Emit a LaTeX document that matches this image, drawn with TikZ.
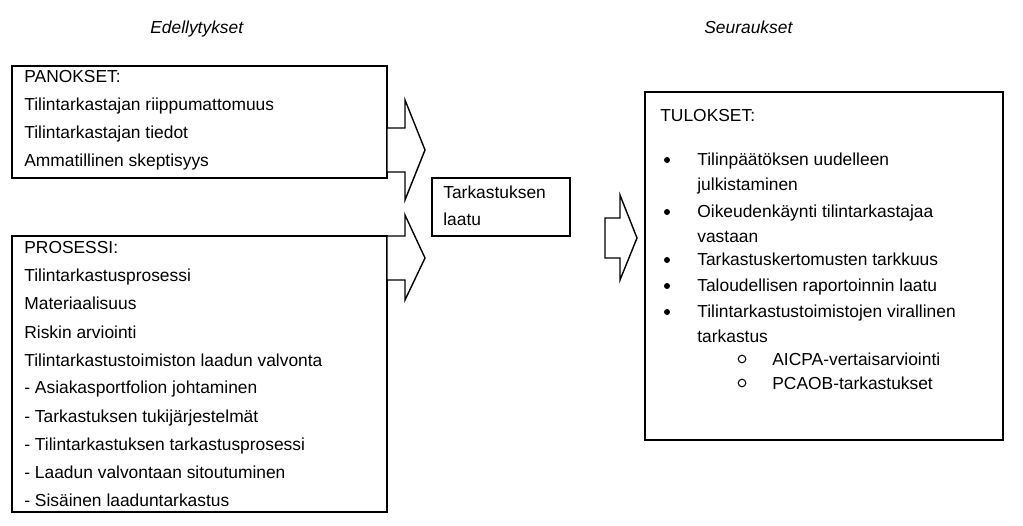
\documentclass[tikz,border=0pt]{standalone}
\usepackage{fontspec}
\setmainfont{Liberation Sans}
\usetikzlibrary{positioning}
\tikzset{box/.style={draw=black, line width=0.8pt}, txt/.style={anchor=base west, inner sep=0pt, font=\fontsize{9.9}{11}\selectfont}, fat/.style={draw=black, line width=0.8pt, fill=white}}

\begin{document}
\begin{tikzpicture}[x=0.02cm, y=-0.02cm]
    \useasboundingbox (0,0) rectangle (1023,526);

    \node (ede) [txt, font=\fontsize{9.9}{11}\selectfont\itshape] at (150,34) {Edellytykset};
    \node (seu) [txt, font=\fontsize{9.9}{11}\selectfont\itshape] at (704,34) {Seuraukset};

    % vasen puoli
    \draw [box] (12,66) rectangle (387,178);
    \draw [box] (12,236) rectangle (387,512);
    \foreach \t [count=\i from 0] in {PANOKSET:, Tilintarkastajan riippumattomuus, Tilintarkastajan tiedot, Ammatillinen skeptisyys}
        \node (pan\i) [txt] at (24,83+28*\i) {\t};
    \foreach \t [count=\i from 0] in {PROSESSI:, Tilintarkastusprosessi, Materiaalisuus, Riskin arviointi, Tilintarkastustoimiston laadun valvonta, - Asiakasportfolion johtaminen, - Tarkastuksen tukij\"arjestelm\"at, - Tilintarkastuksen tarkastusprosessi, - Laadun valvontaan sitoutuminen, - Sis\"ainen laaduntarkastus}
        \node (pro\i) [txt] at (24,254+28*\i) {\t};

    % nuolet
    \draw [fat] (387,128) -- (405,128) -- (405,100) -- (425,150) -- (405,200) -- (405,172) -- (387,172) -- cycle;
    \draw [fat] (387,236) -- (405,236) -- (405,215) -- (425,258) -- (405,300) -- (405,280) -- (387,280) -- cycle;
    \draw [fat] (605,218) -- (620,218) -- (620,195) -- (637,238) -- (620,280) -- (620,258) -- (605,258) -- cycle;

    % keskimmainen laatikko
    \draw [box] (432,178) rectangle (570,236);
    \node (laa0) [txt] at (443,199) {Tarkastuksen};
    \node (laa1) [txt] at (443,226) {laatu};

    % tulokset
    \draw [box] (645,92) rectangle (1003,440);
    \node (tul) [txt] at (660,122) {TULOKSET:};
    \foreach \y/\t in {160/Tilinp\"a\"at\"oksen uudelleen, 185/julkistaminen, 212/Oikeudenk\"aynti tilintarkastajaa, 237/vastaan, 260/Tarkastuskertomusten tarkkuus, 286/Taloudellisen raportoinnin laatu, 312/Tilintarkastustoimistojen virallinen, 337/tarkastus}
        \node [txt] at (697,\y+6) {\t};
    \foreach \y in {160,212,260,286,312}
        \fill (667,\y) circle (3);
    \foreach \y/\t in {359/AICPA-vertaisarviointi, 383/PCAOB-tarkastukset} {
        \draw [line width=0.6pt] (742,\y) circle (3.8);
        \node [txt] at (772,\y+6) {\t};
    }
\end{tikzpicture}
\end{document}
